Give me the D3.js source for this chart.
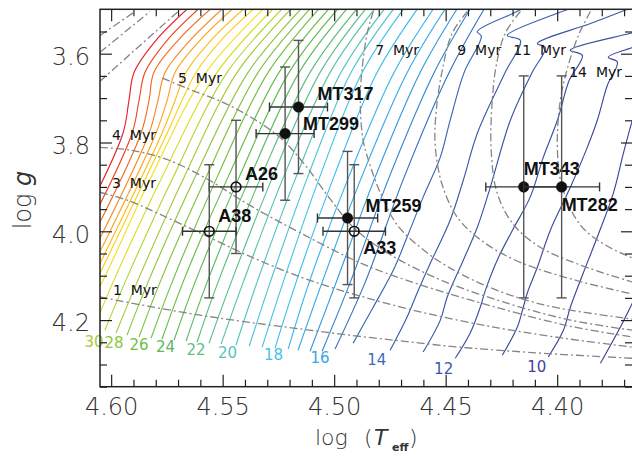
<!DOCTYPE html>
<html>
<head>
<meta charset="utf-8">
<script src="https://cdn.jsdelivr.net/npm/d3@7/dist/d3.min.js"></script>
<style>
  body { margin: 0; background: #fff; }
  svg { display: block; }
</style>
</head>
<body>
<div id="chart"></div>
<script>
// kiel diagram: log g vs log Teff with tracks and isochrones

// ticks
const xMajorTicks = [4.60, 4.55, 4.50, 4.45, 4.40];
const yMajorTicks = [3.6, 3.8, 4.0, 4.2];

// evolutionary tracks, points are [logTeff, logg]
// most massive ones (enter from the left edge)
const tracksHigh = [
  [[4.6104,3.9525],[4.5947,3.7791],[4.5920,3.7049],[4.5897,3.6418],[4.5799,3.5698],[4.5660,3.50]],
  [[4.6104,3.9930],[4.5906,3.7791],[4.5875,3.7049],[4.5848,3.6418],[4.5749,3.5698],[4.5610,3.50]],
  [[4.6104,4.0335],[4.5866,3.7791],[4.5830,3.7049],[4.5808,3.6418],[4.5700,3.5698],[4.5556,3.50]],
  [[4.6104,4.0696],[4.5830,3.7791],[4.5790,3.7049],[4.5758,3.6418],[4.5646,3.5698],[4.5503,3.50]],
  [[4.6104,4.1011],[4.5799,3.7791],[4.5749,3.7049],[4.5713,3.6418],[4.5601,3.5698],[4.5458,3.50]],
  [[4.6104,4.1281],[4.5772,3.7791],[4.5713,3.7049],[4.5664,3.6418],[4.5552,3.5698],[4.5408,3.50]],
  [[4.6104,4.1506],[4.5749,3.7791],[4.5682,3.7049],[4.5619,3.6418],[4.5507,3.5698],[4.5363,3.50]]
];

// middle masses, nearly straight across the plot
const tracksMid = [
  [[4.6068,4.137],[4.6041,4.115],[4.5821,3.878],[4.5574,3.642],[4.5319,3.50]],
  [[4.6063,4.200],[4.5992,4.115],[4.5772,3.878],[4.5525,3.642],[4.5276,3.50]],
  [[4.6028,4.223],[4.5938,4.115],[4.5722,3.878],[4.5480,3.642],[4.5235,3.50]],
  [[4.5978,4.229],[4.5884,4.115],[4.5673,3.878],[4.5435,3.642],[4.5195,3.50]],
  [[4.5929,4.234],[4.5835,4.115],[4.5624,3.878],[4.5386,3.642],[4.5150,3.50]],
  [[4.5875,4.238],[4.5781,4.115],[4.5574,3.878],[4.5341,3.642],[4.5110,3.50]],
  [[4.5821,4.241],[4.5727,4.115],[4.5525,3.878],[4.5296,3.642],[4.5070,3.50]],
  [[4.5772,4.243],[4.5678,4.115],[4.5476,3.878],[4.5247,3.642],[4.5026,3.50]],
  [[4.5718,4.245],[4.5624,4.115],[4.5426,3.878],[4.5202,3.642],[4.4985,3.50]],
  [[4.5664,4.247],[4.5570,4.115],[4.5377,3.878],[4.5157,3.642],[4.4945,3.50]],
  [[4.5615,4.250],[4.5521,4.115],[4.5328,3.878],[4.5108,3.642],[4.4900,3.50]],
  [[4.5561,4.252],[4.5462,4.115],[4.5276,3.878],[4.5063,3.642],[4.4860,3.50]],
  [[4.5507,4.254],[4.5408,4.115],[4.5227,3.878],[4.5018,3.642],[4.4820,3.50]],
  [[4.5440,4.256],[4.5346,4.115],[4.5171,3.878],[4.4969,3.642],[4.4776,3.50]],
  [[4.5381,4.259],[4.5287,4.115],[4.5119,3.878],[4.4924,3.642],[4.4735,3.50]],
  [[4.5323,4.261],[4.5229,4.115],[4.5065,3.878],[4.4874,3.642],[4.4690,3.50]],
  [[4.5265,4.263],[4.5171,4.115],[4.5002,3.878],[4.4807,3.642],[4.4628,3.50]],
  [[4.5206,4.265],[4.5112,4.115],[4.4935,3.878],[4.4731,3.642],[4.4556,3.50]],
  [[4.5162,4.268],[4.5054,4.115],[4.4877,3.878],[4.4672,3.642],[4.4503,3.50]],
  [[4.5108,4.270],[4.4991,4.115],[4.4816,3.878],[4.4614,3.642],[4.4450,3.50]],
  [[4.5054,4.270],[4.4928,4.115],[4.4753,3.878],[4.4551,3.642],[4.4391,3.50]],
  [[4.4996,4.265],[4.4861,4.115],[4.4686,3.878],[4.4484,3.642],[4.4328,3.50]]
];

// low masses, with the hook at the end of the main sequence
const tracksLow = [
  [[4.4915,4.252],[4.4825,4.171],[4.4735,4.088],[4.4673,4.013],[4.4601,3.923],[4.4524,3.833],[4.4480,3.750],[4.4417,3.642],[4.4340,3.561],[4.4358,3.550],[4.4197,3.509],[4.4161,3.500]],
  [[4.4749,4.268],[4.4673,4.193],[4.4628,4.139],[4.4569,4.072],[4.4480,3.975],[4.4421,3.885],[4.4358,3.779],[4.4233,3.642],[4.4165,3.570],[4.4224,3.559],[4.3999,3.509],[4.3950,3.500]],
  [[4.4601,4.272],[4.4524,4.200],[4.4493,4.148],[4.4421,4.065],[4.4358,3.991],[4.4300,3.901],[4.4210,3.750],[4.4112,3.642],[4.4053,3.586],[4.4089,3.577],[4.3851,3.532],[4.3685,3.500]],
  [[4.4457,4.286],[4.4390,4.229],[4.4345,4.171],[4.4322,4.133],[4.4269,4.065],[4.4201,3.998],[4.4121,3.923],[4.4062,3.833],[4.3999,3.750],[4.3946,3.660],[4.3887,3.604],[4.3941,3.592],[4.3672,3.554],[4.3627,3.547]],
  [[4.4246,4.279],[4.4179,4.216],[4.4152,4.171],[4.4134,4.139],[4.4089,4.081],[4.4031,3.998],[4.3941,3.901],[4.3865,3.811],[4.3820,3.750],[4.3775,3.671],[4.3730,3.619],[4.3771,3.608],[4.3663,3.586],[4.3627,3.579]],
  [[4.4040,4.283],[4.3972,4.223],[4.3941,4.171],[4.3883,4.094],[4.3820,4.013],[4.3748,3.914],[4.3703,3.824],[4.3663,3.750],[4.3627,3.694]],
  [[4.3806,4.297],[4.3717,4.216],[4.3672,4.171],[4.3605,4.099]]
];

// mass labels (Msun) at the lower ends of the tracks
const massLabels = [30, 28, 26, 24, 22, 20, 18, 16, 14, 12, 10];
const massLabelT = [4.6077, 4.5987, 4.5875, 4.5756, 4.5619, 4.5478, 4.5272, 4.5063, 4.4809, 4.4509, 4.4091];
const massLabelG = [4.261, 4.263, 4.268, 4.272, 4.279, 4.286, 4.290, 4.297, 4.301, 4.322, 4.317];

// isochrones (Myr)
const isoAges = [1, 3, 4, 5, 7, 9, 11, 14];
const isoLines = [
  [[4.605,4.148],[4.583,4.169],[4.560,4.189],[4.538,4.205],[4.515,4.220],[4.493,4.234],[4.470,4.247],[4.448,4.259],[4.426,4.268],[4.399,4.277],[4.366,4.286]],
  [[4.605,3.912],[4.5915,3.932],[4.578,3.962],[4.560,4.004],[4.538,4.056],[4.515,4.103],[4.493,4.139],[4.461,4.182],[4.426,4.218],[4.394,4.243],[4.366,4.261]],
  [[4.605,3.811],[4.5915,3.817],[4.574,3.840],[4.556,3.885],[4.538,3.941],[4.515,4.004],[4.487,4.074],[4.461,4.121],[4.426,4.173],[4.394,4.214],[4.366,4.238]],
  [[4.577,3.655],[4.565,3.680],[4.551,3.707],[4.538,3.741],[4.524,3.790],[4.513,3.851],[4.502,3.926],[4.491,3.993],[4.475,4.052],[4.452,4.110],[4.421,4.164],[4.394,4.200],[4.366,4.223]],
  [[4.4825,3.505],[4.4852,3.554],[4.4874,3.631],[4.4883,3.705],[4.4870,3.795],[4.4839,3.851],[4.4794,3.912],[4.4717,3.986],[4.4614,4.036],[4.4480,4.083],[4.4269,4.133],[4.4031,4.169],[4.3658,4.198]],
  [[4.4403,3.505],[4.4471,3.554],[4.4515,3.637],[4.4542,3.727],[4.4547,3.806],[4.4515,3.896],[4.4444,3.971],[4.4322,4.027],[4.4165,4.070],[4.3919,4.110],[4.3658,4.142]],
  [[4.4165,3.505],[4.4233,3.554],[4.4273,3.626],[4.4291,3.705],[4.4296,3.817],[4.4269,3.914],[4.4197,3.984],[4.4076,4.036],[4.3896,4.076],[4.3658,4.115]],
  [[4.3851,3.505],[4.3905,3.559],[4.3950,3.626],[4.3986,3.705],[4.3999,3.817],[4.3977,3.901],[4.3896,3.986],[4.3784,4.031],[4.3658,4.061]]
];
// short post-MS pieces of the young isochrones in the upper left
const isoBranches = [
  [[4.605,3.662],[4.570,3.505]],
  [[4.605,3.597],[4.5826,3.505]],
  [[4.605,3.559],[4.5893,3.505]]
];
const isoLabelT = [4.5992, 4.5996, 4.5996, 4.5700, 4.4816, 4.4448, 4.4197, 4.3946];
const isoLabelG = [4.144, 3.903, 3.795, 3.667, 3.604, 3.604, 3.604, 3.653];

// stars
const starNames = ["MT317", "MT299", "A26", "A38", "MT259", "A33", "MT343", "MT282"];
const starT    = [4.516, 4.522, 4.544, 4.556, 4.494, 4.491, 4.415, 4.398];
const starG    = [3.72, 3.78, 3.90, 4.00, 3.97, 4.00, 3.90, 3.90];
const starErrT = [0.013, 0.013, 0.012, 0.012, 0.0135, 0.014, 0.017, 0.017];
const starErrG = [0.15, 0.15, 0.15, 0.15, 0.15, 0.15, 0.25, 0.25];
const starOpen = [false, false, true, true, false, true, false, false];

// styling
const trackColors = [
  "#e8202a","#ee4424","#f26b22","#f68c1f","#f9a51c","#fbbd18","#f8d21a",
  "#f2e01e","#d9dd25","#b8d433","#a2cd3b","#8fc740","#80c342","#72bf44","#68bc48","#5fba52",
  "#5cba62","#5fbd78","#5dbf8f","#5bc2a8","#56c3bd","#4fc4d2","#45c4e6","#3dbfec","#38b4ea",
  "#36a8e4","#3499dc","#3585cd","#3774c0",
  "#3866b6","#395cae","#3a55a8","#3b50a3","#3c4b9f","#3d469b","#40409a"
];
const massLabelColors = ["#a5cd39","#8cc63f","#6fbe45","#5cb85c","#62bf80","#5ac3bd","#45c2e8","#3aa3df","#3a6cb6","#3b55a8","#3e479c"];
// label offsets in px from the star
const starLabelDx = [19, 18, 9, 9, 18, 9, 0, 0];
const starLabelDy = [-7, -4, -7, -9, -6, 23, -12, 24];

const margin = { top: 9.3, left: 100 },
      width = 533,
      height = 377.4;

const svg = d3.select("#chart")
  .append("svg")
    .attr("width", 632)
    .attr("height", 458);

const g = svg.append("g")
    .attr("transform", `translate(${margin.left},${margin.top})`);

const x = d3.scaleLinear().domain([4.605, 4.366]).range([0, width]);
const y = d3.scaleLinear().domain([3.50, 4.35]).range([0, height]);

g.append("clipPath").attr("id", "plotclip")
  .append("rect").attr("width", width).attr("height", height);

const plot = g.append("g").attr("clip-path", "url(#plotclip)");

const line = d3.line()
  .x(d => x(d[0]))
  .y(d => y(d[1]))
  .curve(d3.curveCatmullRom.alpha(0.5));

// tracks
const allTracks = [...tracksHigh, ...tracksMid, ...tracksLow];
plot.selectAll(".track")
  .data(allTracks)
  .join("path")
    .attr("class", "track")
    .attr("fill", "none")
    .attr("stroke", (d, i) => trackColors[i])
    .attr("stroke-width", 1.15)
    .attr("d", line);

// isochrones
plot.selectAll(".iso")
  .data([...isoLines, ...isoBranches])
  .join("path")
    .attr("class", "iso")
    .attr("fill", "none")
    .attr("stroke", "#858585")
    .attr("stroke-width", 1.3)
    .attr("stroke-dasharray", "8,3,2,3")
    .attr("d", line);

// age labels
g.selectAll(".isolab")
  .data(isoAges)
  .join("text")
    .attr("class", "isolab")
    .attr("x", (d, i) => x(isoLabelT[i]))
    .attr("y", (d, i) => y(isoLabelG[i]))
    .style("white-space", "pre")
    .style("font-family", "'DejaVu Sans', sans-serif")
    .style("font-size", "14px")
    .attr("fill", "#111")
    .text(d => `${d}  Myr`);

// mass labels
g.selectAll(".masslab")
  .data(massLabels)
  .join("text")
    .attr("class", "masslab")
    .attr("x", (d, i) => x(massLabelT[i]))
    .attr("y", (d, i) => y(massLabelG[i]))
    .attr("text-anchor", "middle")
    .style("font-family", "'DejaVu Sans', sans-serif")
    .style("font-size", "15px")
    .attr("fill", (d, i) => massLabelColors[i])
    .text(d => d);

// stars with error bars
const stars = starNames.map((name, i) => ({
  name, t: starT[i], lg: starG[i], et: starErrT[i], eg: starErrG[i], open: starOpen[i], i
}));

const sg = g.selectAll(".star")
  .data(stars)
  .join("g")
    .attr("class", "star");

sg.append("line")
  .attr("x1", d => x(d.t)).attr("x2", d => x(d.t))
  .attr("y1", d => y(d.lg - d.eg)).attr("y2", d => y(d.lg + d.eg))
  .attr("stroke", "#555").attr("stroke-width", 1.4);
sg.append("line")
  .attr("x1", d => x(d.t) - 5).attr("x2", d => x(d.t) + 5)
  .attr("y1", d => y(d.lg - d.eg)).attr("y2", d => y(d.lg - d.eg))
  .attr("stroke", "#555").attr("stroke-width", 1.4);
sg.append("line")
  .attr("x1", d => x(d.t) - 5).attr("x2", d => x(d.t) + 5)
  .attr("y1", d => y(d.lg + d.eg)).attr("y2", d => y(d.lg + d.eg))
  .attr("stroke", "#555").attr("stroke-width", 1.4);
sg.append("line")
  .attr("x1", d => x(d.t - d.et)).attr("x2", d => x(d.t + d.et))
  .attr("y1", d => y(d.lg)).attr("y2", d => y(d.lg))
  .attr("stroke", "#333").attr("stroke-width", 1.4);
sg.append("line")
  .attr("x1", d => x(d.t - d.et)).attr("x2", d => x(d.t - d.et))
  .attr("y1", d => y(d.lg) - 4.5).attr("y2", d => y(d.lg) + 4.5)
  .attr("stroke", "#333").attr("stroke-width", 1.4);
sg.append("line")
  .attr("x1", d => x(d.t + d.et)).attr("x2", d => x(d.t + d.et))
  .attr("y1", d => y(d.lg) - 4.5).attr("y2", d => y(d.lg) + 4.5)
  .attr("stroke", "#333").attr("stroke-width", 1.4);
sg.append("circle")
  .attr("cx", d => x(d.t))
  .attr("cy", d => y(d.lg))
  .attr("r", d => d.open ? 4.8 : 5.3)
  .attr("fill", d => d.open ? "none" : "#111")
  .attr("stroke", "#111")
  .attr("stroke-width", d => d.open ? 1.7 : 0.5);
sg.append("text")
  .attr("x", d => x(d.t) + starLabelDx[d.i])
  .attr("y", d => y(d.lg) + starLabelDy[d.i])
  .style("font-family", "'Liberation Sans', Arial, sans-serif")
  .style("font-size", "18px")
  .style("font-weight", "bold")
  .attr("fill", "#111")
  .text(d => d.name);

// axes, ticks pointing inwards
const xMinor = d3.range(4.37, 4.6051, 0.01).filter(v => !xMajorTicks.some(m => Math.abs(m - v) < 1e-6));
const yMinor = d3.range(3.55, 4.3501, 0.05).filter(v => !yMajorTicks.some(m => Math.abs(m - v) < 1e-6));

function styleAxis(sel) {
  sel.select(".domain").remove();
  sel.selectAll(".tick line").attr("stroke", "#222").attr("stroke-width", 1.2);
  sel.selectAll(".tick text")
    .style("font-family", "'DejaVu Sans', sans-serif")
    .style("font-size", "24px")
    .style("font-weight", 200)
    .attr("fill", "#333");
}

g.append("g").attr("transform", `translate(0,${height})`)
  .call(d3.axisBottom(x).tickValues(xMajorTicks).tickSize(-12).tickPadding(11).tickFormat(d3.format(".2f")))
  .call(styleAxis);
g.append("g").attr("transform", `translate(0,${height})`)
  .call(d3.axisBottom(x).tickValues(xMinor).tickSize(-7).tickFormat(""))
  .call(styleAxis);
g.append("g")
  .call(d3.axisTop(x).tickValues(xMajorTicks).tickSize(-12).tickFormat(""))
  .call(styleAxis);
g.append("g")
  .call(d3.axisTop(x).tickValues(xMinor).tickSize(-7).tickFormat(""))
  .call(styleAxis);

g.append("g")
  .call(d3.axisLeft(y).tickValues(yMajorTicks).tickSize(-12).tickPadding(10).tickFormat(d3.format(".1f")))
  .call(styleAxis)
  .selectAll(".tick text").attr("dy", "0.45em");
g.append("g")
  .call(d3.axisLeft(y).tickValues(yMinor).tickSize(-7).tickFormat(""))
  .call(styleAxis);
g.append("g").attr("transform", `translate(${width},0)`)
  .call(d3.axisRight(y).tickValues(yMajorTicks).tickSize(-12).tickFormat(""))
  .call(styleAxis);
g.append("g").attr("transform", `translate(${width},0)`)
  .call(d3.axisRight(y).tickValues(yMinor).tickSize(-8).tickFormat(""))
  .call(styleAxis);

// frame
g.append("rect")
  .attr("width", width)
  .attr("height", height)
  .attr("fill", "none")
  .attr("stroke", "#222")
  .attr("stroke-width", 1.5);

// axis titles
const tf = "'DejaVu Sans', sans-serif";
svg.append("text").attr("x", 315).attr("y", 445)
  .style("font-family", tf).style("font-size", "22px").style("font-weight", 200)
  .attr("fill", "#333").text("log");
svg.append("text").attr("x", 364).attr("y", 445)
  .style("font-family", tf).style("font-size", "22px").style("font-weight", 200)
  .attr("fill", "#333").text("(");
svg.append("text").attr("x", 374).attr("y", 445)
  .style("font-family", tf).style("font-size", "22px").style("font-weight", 200).style("font-style", "italic")
  .attr("fill", "#333").text("T");
svg.append("text").attr("x", 392).attr("y", 451)
  .style("font-family", tf).style("font-size", "11px").style("font-weight", "bold")
  .attr("fill", "#333").text("eff");
svg.append("text").attr("x", 409).attr("y", 445)
  .style("font-family", tf).style("font-size", "22px").style("font-weight", 200)
  .attr("fill", "#333").text(")");

const yt = svg.append("text")
  .attr("transform", "translate(31,200) rotate(-90)")
  .attr("text-anchor", "middle")
  .style("font-family", tf).style("font-size", "24px").style("font-weight", 200)
  .attr("fill", "#333");
yt.append("tspan").text("log ");
yt.append("tspan").style("font-style", "italic").text("g");
</script>
</body>
</html>
